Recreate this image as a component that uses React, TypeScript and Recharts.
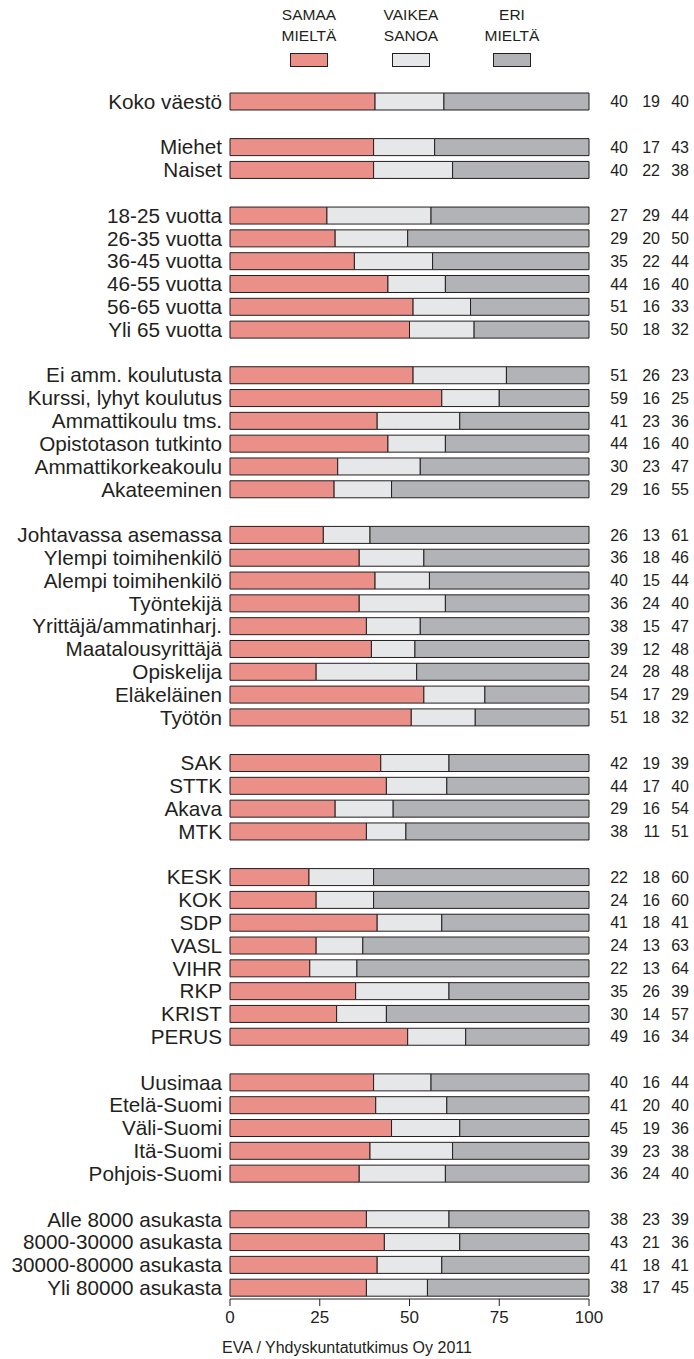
import React from 'react';
import { BarChart, Bar, XAxis, YAxis, LabelList } from 'recharts';

// Row labels, in order; groups are split by groupSizes
const labels = [
  'Koko väestö',
  'Miehet', 'Naiset',
  '18-25 vuotta', '26-35 vuotta', '36-45 vuotta', '46-55 vuotta', '56-65 vuotta', 'Yli 65 vuotta',
  'Ei amm. koulutusta', 'Kurssi, lyhyt koulutus', 'Ammattikoulu tms.', 'Opistotason tutkinto', 'Ammattikorkeakoulu', 'Akateeminen',
  'Johtavassa asemassa', 'Ylempi toimihenkilö', 'Alempi toimihenkilö', 'Työntekijä', 'Yrittäjä/ammatinharj.', 'Maatalousyrittäjä', 'Opiskelija', 'Eläkeläinen', 'Työtön',
  'SAK', 'STTK', 'Akava', 'MTK',
  'KESK', 'KOK', 'SDP', 'VASL', 'VIHR', 'RKP', 'KRIST', 'PERUS',
  'Uusimaa', 'Etelä-Suomi', 'Väli-Suomi', 'Itä-Suomi', 'Pohjois-Suomi',
  'Alle 8000 asukasta', '8000-30000 asukasta', '30000-80000 asukasta', 'Yli 80000 asukasta',
];

const groupSizes = [1, 2, 6, 6, 9, 4, 8, 5, 4];

const samaa = [
  40,
  40, 40,
  27, 29, 35, 44, 51, 50,
  51, 59, 41, 44, 30, 29,
  26, 36, 40, 36, 38, 39, 24, 54, 51,
  42, 44, 29, 38,
  22, 24, 41, 24, 22, 35, 30, 49,
  40, 41, 45, 39, 36,
  38, 43, 41, 38,
];

const vaikea = [
  19,
  17, 22,
  29, 20, 22, 16, 16, 18,
  26, 16, 23, 16, 23, 16,
  13, 18, 15, 24, 15, 12, 28, 17, 18,
  19, 17, 16, 11,
  18, 16, 18, 13, 13, 26, 14, 16,
  16, 20, 19, 23, 24,
  23, 21, 18, 17,
];

const eri = [
  40,
  43, 38,
  44, 50, 44, 40, 33, 32,
  23, 25, 36, 40, 47, 55,
  61, 46, 44, 40, 47, 48, 48, 29, 32,
  39, 40, 54, 51,
  60, 60, 41, 63, 64, 39, 57, 34,
  44, 40, 36, 38, 40,
  39, 36, 41, 45,
];

const seriesNames = ['SAMAA MIELTÄ', 'VAIKEA SANOA', 'ERI MIELTÄ'];
const seriesColors = ['#EA9089', '#E6E7E8', '#B2B3B6'];
const xTicks = [0, 0.25, 0.5, 0.75, 1];
const source = 'EVA / Yhdyskuntatutkimus Oy 2011';

const FONT = '"Liberation Sans", Arial, Helvetica, sans-serif';
const INK = '#231F20';

// build rows with an empty row between groups
const rows: any[] = [];
let k = 0;
groupSizes.forEach((size, g) => {
  if (g > 0) rows.push({ name: `gap-${g}` });
  for (let i = 0; i < size; i++, k++) {
    rows.push({ name: labels[k], a: samaa[k], b: vaikea[k], c: eri[k] });
  }
});

const LeftTick = ({ x, y, payload }: any) => {
  const v = String(payload.value);
  if (v.startsWith('gap-')) return null;
  return (
    <text x={x} y={y} dy="0.355em" textAnchor="end" fontSize={20.7} fill={INK} fontFamily={FONT}>
      {v}
    </text>
  );
};

// numbers to the right of each bar
const numLabel = (offset: number) => (p: any) => {
  const vb = p.viewBox || p;
  if (p.value === undefined || p.value === null) return null;
  return (
    <text
      x={vb.x + vb.width + offset}
      y={vb.y + vb.height / 2}
      dy="0.355em"
      textAnchor="end"
      fontSize={16}
      fill={INK}
      fontFamily={FONT}
    >
      {p.value}
    </text>
  );
};

const swatchX = [290, 392, 493];

export default function App() {
  return (
    <div style={{ position: 'relative', width: 694, height: 1359, fontFamily: FONT, background: '#fff' }}>
      <style>{'body{margin:0}'}</style>
      {seriesNames.map((n, i) => {
        const [l1, l2] = [n.slice(0, n.indexOf(' ')), n.slice(n.indexOf(' ') + 1)];
        return (
          <div key={n}>
            <div
              style={{
                position: 'absolute',
                left: swatchX[i] + 19 - 50,
                width: 100,
                top: 4,
                textAlign: 'center',
                fontSize: 15.5,
                lineHeight: '21px',
                color: INK,
              }}
            >
              {l1}
              <br />
              {l2}
            </div>
            <div
              style={{
                position: 'absolute',
                left: swatchX[i],
                top: 53,
                width: 38,
                height: 14,
                boxSizing: 'border-box',
                background: seriesColors[i],
                border: `1px solid ${INK}`,
              }}
            />
          </div>
        );
      })}
      <div style={{ position: 'absolute', left: 0, top: 0 }}>
        <BarChart
          width={694}
          height={1359}
          data={rows}
          layout="vertical"
          stackOffset="expand"
          barSize={17}
          margin={{ top: 90, right: 105, bottom: 30, left: 0 }}
        >
          <XAxis
            type="number"
            domain={[0, 1]}
            ticks={xTicks}
            tickFormatter={(v: number) => String(Math.round(v * 100))}
            stroke={INK}
            tickSize={7}
            tickMargin={5}
            height={30}
            tick={{ fontSize: 17, fill: INK, fontFamily: FONT }}
          />
          <YAxis
            type="category"
            dataKey="name"
            width={230}
            axisLine={false}
            tickLine={false}
            interval={0}
            tick={<LeftTick />}
          />
          <Bar dataKey="a" name={seriesNames[0]} stackId="s" fill={seriesColors[0]} stroke={INK} strokeWidth={1} isAnimationActive={false} />
          <Bar dataKey="b" name={seriesNames[1]} stackId="s" fill={seriesColors[1]} stroke={INK} strokeWidth={1} isAnimationActive={false} />
          <Bar dataKey="c" name={seriesNames[2]} stackId="s" fill={seriesColors[2]} stroke={INK} strokeWidth={1} isAnimationActive={false}>
            <LabelList dataKey="a" content={numLabel(39)} />
            <LabelList dataKey="b" content={numLabel(71)} />
            <LabelList dataKey="c" content={numLabel(100)} />
          </Bar>
        </BarChart>
      </div>
      <div
        style={{
          position: 'absolute',
          left: 222,
          top: 1340,
          fontSize: 16,
          lineHeight: '16px',
          color: INK,
          whiteSpace: 'nowrap',
        }}
      >
        {source}
      </div>
    </div>
  );
}
